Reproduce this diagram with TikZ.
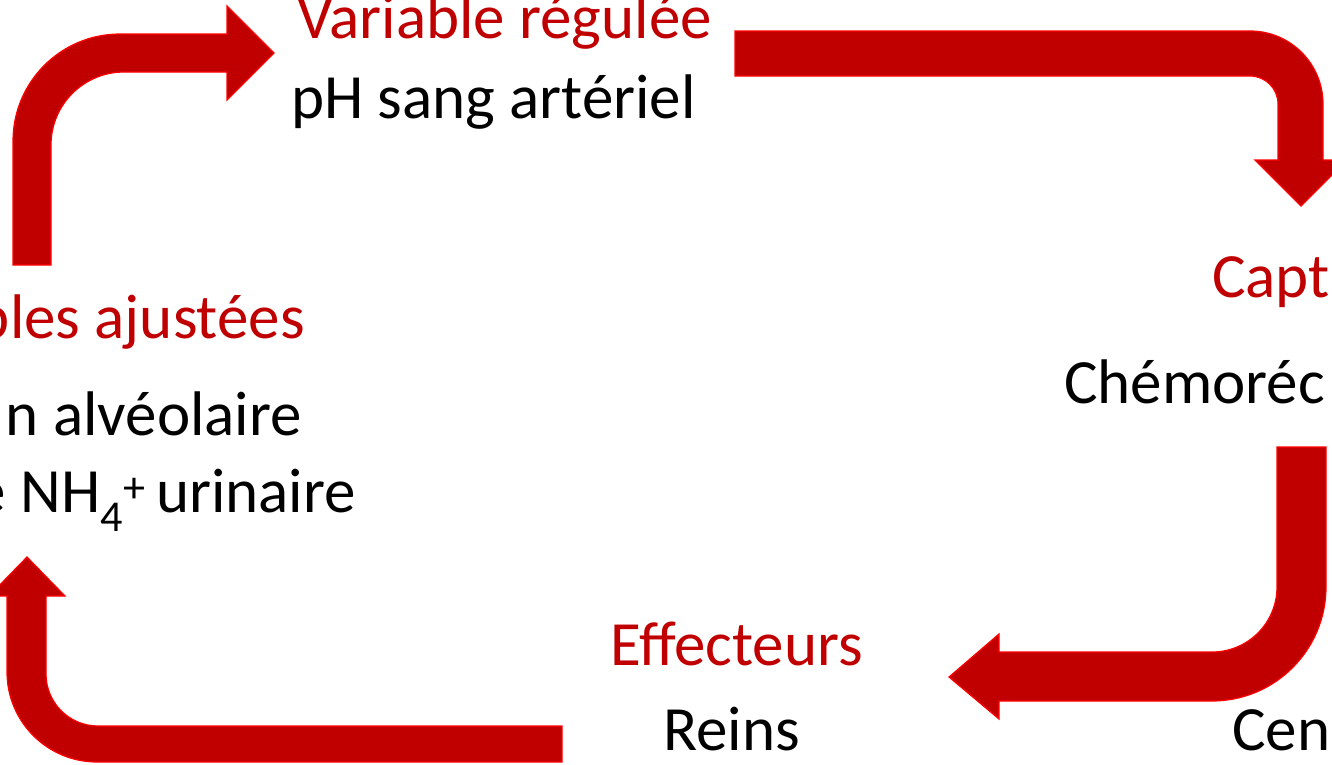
\documentclass[tikz,border=0pt]{standalone}
\usepackage{fontspec}
\setmainfont{Carlito}
\definecolor{arrfill}{HTML}{C00000}
\definecolor{arredge}{HTML}{FF0000}
\definecolor{lbl}{HTML}{C00000}
\tikzset{
  blockarrow/.style={fill=arrfill,draw=arredge,line width=1.2pt,line join=miter},
  titlelbl/.style={text=lbl,font=\fontsize{63}{75}\selectfont,inner sep=0pt},
  bodylbl/.style={text=black,font=\fontsize{63}{75}\selectfont,inner sep=0pt}
}
\begin{document}
\begin{tikzpicture}[x=1pt,y=-1pt]
\useasboundingbox (0,0) rectangle (1332,764);
\clip (0,0) rectangle (1332,764);
% arrow 1: up then right
\draw[blockarrow] (13,265) -- (13,141) arc[start angle=180,end angle=270,radius=107]
  -- (227,34) -- (227,6) -- (274,53) -- (227,100) -- (227,72) -- (124,72)
  arc[start angle=270,end angle=180,radius=73] -- (51,265) -- cycle;
% arrow 2: right then down
\draw[blockarrow] (735,31) -- (1250,31) arc[start angle=270,end angle=360,radius=73]
  -- (1323,160) -- (1347,160) -- (1301,206) -- (1255,160) -- (1278,160) -- (1278,104)
  arc[start angle=0,end angle=-90,radius=28] -- (735,76) -- cycle;
% arrow 3: down then left
\draw[blockarrow] (1277,447) -- (1326,447) -- (1326,587) arc[start angle=0,end angle=90,radius=114]
  -- (999,701) -- (999,719) -- (949,677) -- (999,634) -- (999,652) -- (1212,652)
  arc[start angle=90,end angle=0,radius=65] -- cycle;
% arrow 4: left then up
\draw[blockarrow] (562,726) -- (98,726) arc[start angle=90,end angle=180,radius=52]
  -- (46,596) -- (65,596) -- (27,557) -- (-11,596) -- (7,596) -- (7,672)
  arc[start angle=180,end angle=90,radius=90] -- (562,762) -- cycle;
% labels
\node[titlelbl,anchor=base west] (vr) at (297,38) {Variable régulée};
\node[bodylbl,anchor=base west] (ph) at (291,118) {pH sang artériel};
\node[titlelbl,anchor=base west] (capt) at (1212,297) {Capt};
\node[bodylbl,anchor=base west] (chemo) at (1064,403) {Chémoréc};
\node[bodylbl,anchor=base west] (cen) at (1232,750) {Cen};
\node[titlelbl,anchor=base west] (eff) at (610,665) {Effecteurs};
\node[bodylbl,anchor=base west] (reins) at (663,750) {Reins};
\node[titlelbl,anchor=base east] (vaj) at (305,338) {bles ajustées};
\node[bodylbl,anchor=base east] (vent) at (302,435) {n alvéolaire};
\node[bodylbl,anchor=base east] (nh) at (356,512) {e NH\textsubscript{4}\textsuperscript{+}\,urinaire};
\end{tikzpicture}
\end{document}
